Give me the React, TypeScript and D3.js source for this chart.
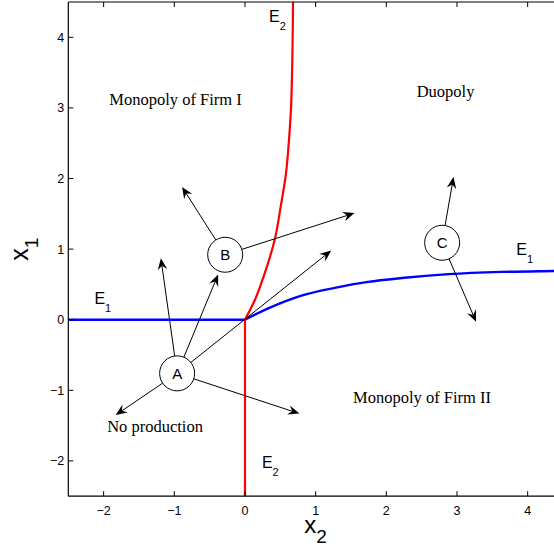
import React from 'react';
import * as d3 from 'd3';

// axis ticks
const xTicks = [-2, -1, 0, 1, 2, 3, 4];
const yTicks = [-2, -1, 0, 1, 2, 3, 4];

// E1 curve (x1 as function of x2), right of the origin
const e1X2 = [0, 0.33, 0.8, 1.27, 1.74, 2.22, 2.88, 3.63, 4.37, 4.5];
const e1X1 = [0, 0.16, 0.34, 0.45, 0.535, 0.59, 0.645, 0.677, 0.69, 0.692];

// E2 curve (x2 as function of x1), above the origin
const e2X1 = [0, 0.28, 0.66, 1.15, 1.6, 2.07, 2.55, 3.11, 4.5];
const e2X2 = [0, 0.14, 0.28, 0.425, 0.505, 0.58, 0.623, 0.656, 0.68];

// circled points
const nodeNames = ['A', 'B', 'C'];
const nodeX2 = [-0.96, -0.28, 2.79];
const nodeX1 = [-0.76, 0.92, 1.09];

// arrows: start node + tip
const arrowFrom = ['A', 'A', 'A', 'A', 'A', 'B', 'B', 'C', 'C'];
const arrowTipX2 = [-1.19, -0.38, 1.22, 0.77, -1.83, -0.89, 1.55, 2.95, 3.27];
const arrowTipX1 = [0.87, 0.64, 0.98, -1.33, -1.35, 1.88, 1.51, 2.02, -0.03];

// region labels
const regionNames = ['Monopoly of Firm I', 'Duopoly', 'No production', 'Monopoly of Firm II'];
const regionX2 = [-1.92, 2.43, -1.95, 1.53];
const regionX1 = [3.04, 3.16, -1.59, -1.18];

// curve labels
const curveNames = ['E', 'E', 'E', 'E'];
const curveSubs = ['2', '2', '1', '1'];
const curveX2 = [0.34, 0.24, -2.13, 3.84];
const curveX1 = [4.22, -2.1, 0.22, 0.92];

const W = 554;
const H = 548;
const left = 68.3, right = 563, top = 2, bottom = 496.2;
const R = 17.5;

const sans = 'Liberation Sans, Arial, Helvetica, sans-serif';
const serif = 'Liberation Serif, Times New Roman, serif';

const fmt = (t: number) => (t < 0 ? '\u2212' + Math.abs(t) : String(t));

const App = () => {
  const x = d3.scaleLinear().domain([-2.5, 4.5]).range([left, right]);
  const y = d3.scaleLinear().domain([-2.5, 4.5]).range([bottom, top]);

  const e1Path = d3.line<number>()
    .x((d, i) => x(e1X2[i]))
    .y((d) => y(d))
    .curve(d3.curveMonotoneX)(e1X1);
  const e1Left = d3.line<number>().x(d => x(d)).y(() => y(0))([-2.5, 0]);

  const e2Path = d3.line<number>()
    .x((d, i) => x(e2X2[i]))
    .y((d) => y(d))
    .curve(d3.curveMonotoneY)(e2X1);
  const e2Low = d3.line<number>().x(() => x(0)).y(d => y(d))([-2.5, 0]);

  const arrows = arrowFrom.map((n, i) => {
    const k = nodeNames.indexOf(n);
    const cx = x(nodeX2[k]), cy = y(nodeX1[k]);
    const tx = x(arrowTipX2[i]), ty = y(arrowTipX1[i]);
    const ang = Math.atan2(ty - cy, tx - cx);
    const sx = cx + R * Math.cos(ang), sy = cy + R * Math.sin(ang);
    const deg = (ang * 180) / Math.PI;
    return (
      <g key={i}>
        <line x1={sx} y1={sy} x2={tx - 6 * Math.cos(ang)} y2={ty - 6 * Math.sin(ang)} stroke="#000" strokeWidth={1} />
        <path d="M0,0 L-11.5,-4.8 L-7.5,0 L-11.5,4.8 Z" fill="#000" transform={`translate(${tx},${ty}) rotate(${deg})`} />
      </g>
    );
  });

  return (
    <svg width={W} height={H} style={{ position: 'absolute', left: 0, top: 0, background: '#fff' }}>
      <rect x={0} y={0} width={W} height={H} fill="#fff" />
      {/* curves */}
      <path d={e1Left || ''} stroke="#0000ff" strokeWidth={2.4} fill="none" />
      <path d={e1Path || ''} stroke="#0000ff" strokeWidth={2.4} fill="none" />
      <path d={e2Low || ''} stroke="#ff0000" strokeWidth={2.2} fill="none" />
      <path d={e2Path || ''} stroke="#ff0000" strokeWidth={2.2} fill="none" />

      {arrows}

      {nodeNames.map((n, i) => (
        <g key={n}>
          <circle cx={x(nodeX2[i])} cy={y(nodeX1[i])} r={R} fill="#fff" stroke="#000" strokeWidth={1} />
          <text x={x(nodeX2[i])} y={y(nodeX1[i]) + 5.5} textAnchor="middle" fontFamily={sans} fontSize={15}>{n}</text>
        </g>
      ))}

      {regionNames.map((t, i) => (
        <text key={t} x={x(regionX2[i])} y={y(regionX1[i])} fontFamily={serif} fontSize={16.5}>{t}</text>
      ))}

      {curveNames.map((t, i) => (
        <text key={i} x={x(curveX2[i])} y={y(curveX1[i])} fontFamily={sans} fontSize={16}>
          {t}
          <tspan fontSize={11} dy={8}>{curveSubs[i]}</tspan>
        </text>
      ))}

      {/* frame */}
      <g stroke="#000" strokeWidth={1.2} fill="none">
        <line x1={left} y1={top} x2={left} y2={bottom} />
        <line x1={left} y1={bottom} x2={right} y2={bottom} />
        <line x1={left} y1={top} x2={right} y2={top} />
        <line x1={right} y1={top} x2={right} y2={bottom} />
      </g>
      {xTicks.map(t => (
        <g key={'x' + t}>
          <line x1={x(t)} x2={x(t)} y1={bottom} y2={bottom - 5} stroke="#000" />
          <line x1={x(t)} x2={x(t)} y1={top} y2={top + 5} stroke="#000" />
          <text x={x(t)} y={bottom + 19} textAnchor="middle" fontFamily={sans} fontSize={12.5}>{fmt(t)}</text>
        </g>
      ))}
      {yTicks.map(t => (
        <g key={'y' + t}>
          <line x1={left} x2={left + 5} y1={y(t)} y2={y(t)} stroke="#000" />
          <text x={left - 4} y={y(t) + 4.4} textAnchor="end" fontFamily={sans} fontSize={12.5}>{fmt(t)}</text>
        </g>
      ))}

      {/* axis labels */}
      <text x={(left + right) / 2} y={533} textAnchor="middle" fontFamily={sans} fontSize={24}>
        x<tspan fontSize={19} dy={10}>2</tspan>
      </text>
      <text transform={`translate(28.3,${(top + bottom) / 2}) rotate(-90)`} textAnchor="middle" fontFamily={sans} fontSize={25}>
        x<tspan fontSize={19} dy={10}>1</tspan>
      </text>
    </svg>
  );
};

export default App;
